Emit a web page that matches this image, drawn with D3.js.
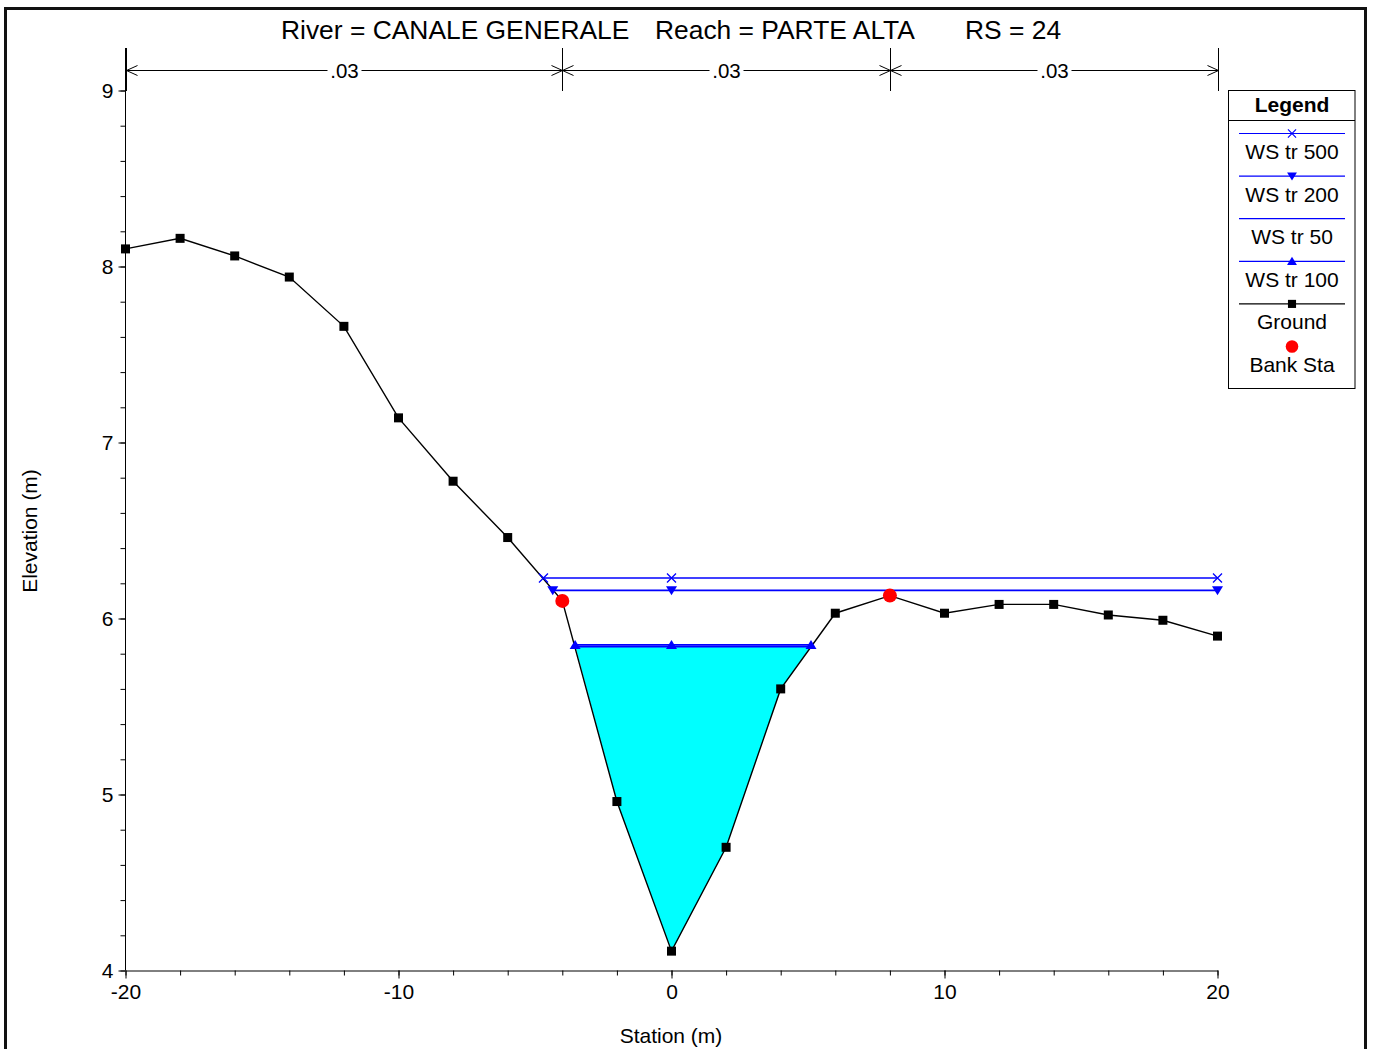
<!DOCTYPE html>
<html>
<head>
<meta charset="utf-8">
<script src="https://cdn.jsdelivr.net/npm/d3@7"></script>
<style>
  html, body { margin: 0; padding: 0; background: #fff; }
  svg { display: block; font-family: "Liberation Sans", Arial, sans-serif; }
</style>
</head>
<body>
<svg id="chart" width="1374" height="1049"></svg>
<script>
// ---------------- DATA ----------------
const titleParts = ["River = CANALE GENERALE", "Reach = PARTE ALTA", "RS = 24"];
const stations = [-20, -18, -16, -14, -12, -10, -8, -6, -4, -2, 0, 2, 4, 6, 8, 10, 12, 14, 16, 18, 20];
const ground   = [8.10, 8.16, 8.06, 7.94, 7.66, 7.14, 6.78, 6.46, 6.10, 4.96, 4.11, 4.70, 5.60, 6.03, 6.13, 6.03, 6.08, 6.08, 6.02, 5.99, 5.90];
const bankStations = [-4, 8];
const bankElev     = [6.10, 6.13];
const profileNames = ["WS tr 500", "WS tr 200", "WS tr 50", "WS tr 100"];
const wsElev       = [6.23, 6.16, 5.84, 5.85];
const wsLeft       = [-4.69, -4.35, -3.52, -3.53];
const wsRight      = [20, 20, 5.09, 5.11];
const wsMarker     = ["x", "down", "none", "up"];
const nBreaks = [-20, -4, 8, 20];
const nValues = [".03", ".03", ".03"];
const xMajorTicks = [-20, -10, 0, 10, 20];
const yMajorTicks = [4, 5, 6, 7, 8, 9];
const xLabel = "Station (m)";
const yLabel = "Elevation (m)";

// ---------------- SETUP ----------------
const svg = d3.select("#chart");
const x = d3.scaleLinear().domain([-20, 20]).range([125.5, 1217.5]);
const y = d3.scaleLinear().domain([4, 9]).range([970.5, 90.5]);
const BLUE = "#0000ff";
const fmt = d => String(d);

// outer frame
svg.append("rect").attr("x", 5.5).attr("y", 8.5).attr("width", 1360).attr("height", 1100)
  .attr("fill", "none").attr("stroke", "#111").attr("stroke-width", 3);

// title
const titleX = [281, 655, 965];
const title = svg.append("text").attr("y", 39).attr("font-size", 26.4).attr("fill", "#000");
titleParts.forEach((t, i) => title.append("tspan").attr("x", titleX[i]).text(t));

// ---------------- AXES ----------------
const xMinor = d3.range(-20, 20.001, 2);
const yMinor = d3.range(4, 9.001, 0.2);

const gx = svg.append("g").attr("transform", `translate(0,${y(4)})`);
gx.call(d3.axisBottom(x).tickValues(xMinor).tickSize(5).tickFormat(""));
gx.call(g => g.select(".domain").remove());
const gx2 = svg.append("g").attr("transform", `translate(0,${y(4)})`);
gx2.call(d3.axisBottom(x).tickValues(xMajorTicks).tickSize(8).tickSizeOuter(0).tickPadding(6).tickFormat(fmt));
gx2.selectAll("text").attr("font-size", 21).attr("font-family", "Liberation Sans, Arial, sans-serif").attr("fill", "#000");
gx2.select(".domain").attr("stroke", "#000");

const gy = svg.append("g").attr("transform", `translate(${x(-20)},0)`);
gy.call(d3.axisLeft(y).tickValues(yMinor).tickSize(5).tickFormat(""));
gy.call(g => g.select(".domain").remove());
const gy2 = svg.append("g").attr("transform", `translate(${x(-20)},0)`);
gy2.call(d3.axisLeft(y).tickValues(yMajorTicks).tickSize(7).tickSizeOuter(0).tickPadding(5).tickFormat(fmt));
gy2.selectAll("text").attr("font-size", 21).attr("font-family", "Liberation Sans, Arial, sans-serif").attr("fill", "#000");
gy2.select(".domain").remove();
// y axis line extending up to the n-value bar
svg.append("line").attr("x1", x(-20)).attr("x2", x(-20)).attr("y1", y(4)).attr("y2", 48)
  .attr("stroke", "#000");

// axis labels
svg.append("text").attr("x", 671).attr("y", 1043).attr("text-anchor", "middle")
  .attr("font-size", 21).text(xLabel);
svg.append("text").attr("transform", "translate(37,531) rotate(-90)").attr("text-anchor", "middle")
  .attr("font-size", 21).text(yLabel);

// ---------------- MANNING n BAR ----------------
const nY = 70.5;
nBreaks.forEach(b => {
  svg.append("line").attr("x1", Math.round(x(b)) + 0.5).attr("x2", Math.round(x(b)) + 0.5)
    .attr("y1", 48).attr("y2", 91).attr("stroke", "#000");
});
for (let i = 0; i < nValues.length; i++) {
  const a = Math.round(x(nBreaks[i])) + 0.5, b = Math.round(x(nBreaks[i + 1])) + 0.5;
  svg.append("line").attr("x1", a).attr("x2", b).attr("y1", nY).attr("y2", nY).attr("stroke", "#000");
  svg.append("path").attr("d", `M${a + 11},${nY - 5}L${a},${nY}L${a + 11},${nY + 5}`)
    .attr("fill", "none").attr("stroke", "#000");
  svg.append("path").attr("d", `M${b - 11},${nY - 5}L${b},${nY}L${b - 11},${nY + 5}`)
    .attr("fill", "none").attr("stroke", "#000");
  const mid = (a + b) / 2;
  svg.append("rect").attr("x", mid - 17).attr("y", nY - 12).attr("width", 34).attr("height", 24).attr("fill", "#fff");
  svg.append("text").attr("x", mid).attr("y", nY + 7.5).attr("text-anchor", "middle")
    .attr("font-size", 20.5).text(nValues[i]);
}

// ---------------- WATER FILL ----------------
const fillIdx = 2; // WS tr 50
const inside = stations.map((s, i) => [s, ground[i]]).filter(p => p[0] > wsLeft[fillIdx] && p[0] < wsRight[fillIdx]);
const fillPts = [[wsLeft[fillIdx], wsElev[fillIdx]], ...inside, [wsRight[fillIdx], wsElev[fillIdx]]];
svg.append("path").attr("d", d3.line().x(d => x(d[0])).y(d => y(d[1]))(fillPts) + "Z")
  .attr("fill", "#00ffff").attr("stroke", "none");

// ---------------- MARKER HELPERS ----------------
function drawMarker(g, type, cx, cy, color) {
  if (type === "x") {
    g.append("path").attr("d", `M${cx - 4.5},${cy - 4.5}L${cx + 4.5},${cy + 4.5}M${cx - 4.5},${cy + 4.5}L${cx + 4.5},${cy - 4.5}`)
      .attr("stroke", color).attr("stroke-width", 1.3).attr("fill", "none");
  } else if (type === "down") {
    g.append("path").attr("d", `M${cx - 5.5},${cy - 4}L${cx + 5.5},${cy - 4}L${cx},${cy + 5}Z`).attr("fill", color);
  } else if (type === "up") {
    g.append("path").attr("d", `M${cx - 5.5},${cy + 4}L${cx + 5.5},${cy + 4}L${cx},${cy - 5}Z`).attr("fill", color);
  } else if (type === "square") {
    g.append("rect").attr("x", cx - 4.5).attr("y", cy - 4.5).attr("width", 9).attr("height", 9).attr("fill", color);
  } else if (type === "circle") {
    g.append("circle").attr("cx", cx).attr("cy", cy).attr("r", 7).attr("fill", color);
  }
}

// ---------------- WS LINES ----------------
const wsG = svg.append("g");
profileNames.forEach((name, i) => {
  wsG.append("line").attr("x1", x(wsLeft[i])).attr("x2", x(wsRight[i]))
    .attr("y1", y(wsElev[i])).attr("y2", y(wsElev[i]))
    .attr("stroke", BLUE).attr("stroke-width", 1.6);
});

// ---------------- GROUND ----------------
const groundPts = stations.map((s, i) => [s, ground[i]]);
svg.append("path").attr("d", d3.line().x(d => x(d[0])).y(d => y(d[1]))(groundPts))
  .attr("fill", "none").attr("stroke", "#000").attr("stroke-width", 1.4);
const gm = svg.append("g");
groundPts.forEach(p => drawMarker(gm, "square", x(p[0]), y(p[1]), "#000"));

// WS markers (drawn over ground)
const wmG = svg.append("g");
profileNames.forEach((name, i) => {
  if (wsMarker[i] === "none") return;
  [wsLeft[i], 0, wsRight[i]].forEach(s => drawMarker(wmG, wsMarker[i], x(s), y(wsElev[i]), BLUE));
});

// bank stations
const bG = svg.append("g");
bankStations.forEach((s, i) => drawMarker(bG, "circle", x(s), y(bankElev[i]), "#ff0000"));

// ---------------- LEGEND ----------------
const lg = svg.append("g");
lg.append("rect").attr("x", 1228.5).attr("y", 90.5).attr("width", 126.5).attr("height", 298)
  .attr("fill", "#fff").attr("stroke", "#000");
lg.append("line").attr("x1", 1228.5).attr("x2", 1355).attr("y1", 120.5).attr("y2", 120.5).attr("stroke", "#000");
lg.append("text").attr("x", 1292).attr("y", 112).attr("text-anchor", "middle")
  .attr("font-size", 21).attr("font-weight", "bold").text("Legend");
const legendItems = profileNames.map((n, i) => ({ name: n, color: BLUE, marker: wsMarker[i], line: true }))
  .concat([{ name: "Ground", color: "#000", marker: "square", line: true },
           { name: "Bank Sta", color: "#ff0000", marker: "circle", line: false }]);
legendItems.forEach((it, i) => {
  const ly = 133.5 + i * 42.6;
  if (it.line) {
    lg.append("line").attr("x1", 1239).attr("x2", 1345).attr("y1", ly).attr("y2", ly)
      .attr("stroke", it.color).attr("stroke-width", 1.2);
  }
  if (it.marker !== "none") {
    const mg = lg.append("g").attr("transform", `translate(1292,${ly}) scale(0.9)`);
    drawMarker(mg, it.marker, 0, 0, it.color);
  }
  lg.append("text").attr("x", 1292).attr("y", ly + 25.5).attr("text-anchor", "middle")
    .attr("font-size", 21).text(it.name);
});
</script>
</body>
</html>
